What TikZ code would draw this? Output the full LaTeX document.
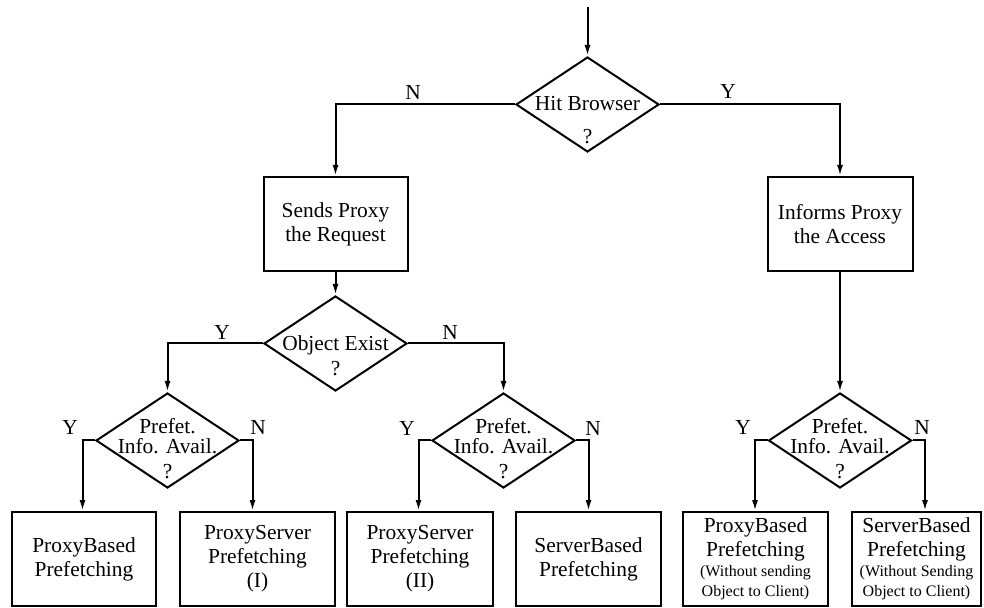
\documentclass[tikz,border=0pt]{standalone}
\usepackage{fontspec}
\setmainfont{Liberation Serif}
\usetikzlibrary{shapes.geometric,arrows.meta}
\newcommand\smalltxt{\fontsize{8}{10}\selectfont}

\begin{document}
\begin{tikzpicture}[x=0.5pt, y=-0.5pt, line width=1pt,
    every node/.style={font=\fontsize{10.7}{12}\selectfont},
    box/.style={draw, rectangle, minimum height=47pt, inner sep=1pt, align=center},
    decision/.style={diamond, draw, minimum width=71.5pt, minimum height=47.5pt, inner sep=0pt},
    arr/.style={-{Latex[length=5.5pt,width=3pt]}}]

    \useasboundingbox (0,0) rectangle (984,608);

    % decisions
    \node[decision] (hit) at (587.5,104.5) {};
    \node[align=center] (hitt) at (587.5,120) {Hit Browser\\[4.5pt]?};
    \node[decision] (obj) at (335.5,343.5) {};
    \node[align=center] (objt) at (335.5,355.5) {Object Exist\\[0.5pt]?};
    \foreach \i/\x in {1/167.5, 2/503.5, 3/840} {
        \node[decision] (pf\i) at (\x,440.5) {};
        \node[align=center] (pft\i) at (\x,449) {Prefet.\\[-2pt]Info. Avail.\\[0.5pt]?};
    }

    % boxes
    \node[box, minimum width=72pt] (send) at (335.5,224) {Sends Proxy\\the Request};
    \node[box, minimum width=72.5pt] (inform) at (840,224) {Informs Proxy\\the Access};
    \node[box, minimum width=72pt] (b1) at (84,559) {ProxyBased\\Prefetching};
    \node[box, minimum width=77.5pt] (b2) at (257.5,559) {ProxyServer\\Prefetching\\(I)};
    \node[box, minimum width=73pt] (b3) at (420,559) {ProxyServer\\Prefetching\\(II)};
    \node[box, minimum width=72.5pt] (b4) at (588.5,559) {ServerBased\\Prefetching};
    \node[box, minimum width=72.5pt] (b5) at (755.5,559)
        {ProxyBased\\Prefetching\\[-2pt]\smalltxt (Without sending\\[-2pt]\smalltxt Object to Client)};
    \node[box, minimum width=64.5pt] (b6) at (916.5,559)
        {ServerBased\\Prefetching\\[-2pt]\smalltxt (Without Sending\\[-2pt]\smalltxt Object to Client)};

    % connectors
    \coordinate (start) at (587.5,7);
    \draw[arr] (start) -- (hit.north);
    \draw[arr] (hit.west) -| (send.north);
    \draw[arr] (hit.east) -| (inform.north);
    \draw[arr] (send.south) -- (obj.north);
    \draw[arr] (inform.south) -- (pf3.north);
    \draw[arr] (obj.west) -| (pf1.north);
    \draw[arr] (obj.east) -| (pf2.north);
    \foreach \i/\l/\r in {1/b1/b2, 2/b3/b4, 3/b5/b6} {
        \draw[arr] (pf\i.west) -- ++(-12.5,0) coordinate (yc) -- (yc |- \l.north);
        \draw[arr] (pf\i.east) -- ++(12.5,0) coordinate (nc) -- (nc |- \r.north);
    }

    % Y / N labels
    \node (n1) at (413,92) {N};
    \node (y1) at (728,91) {Y};
    \node (y2) at (222,332) {Y};
    \node (n2) at (450,332) {N};
    \node (y3) at (70,427) {Y};
    \node (n3) at (258,427) {N};
    \node (y4) at (407,428) {Y};
    \node (n4) at (593,428) {N};
    \node (y5) at (743,427) {Y};
    \node (n5) at (922,427) {N};

\end{tikzpicture}
\end{document}
